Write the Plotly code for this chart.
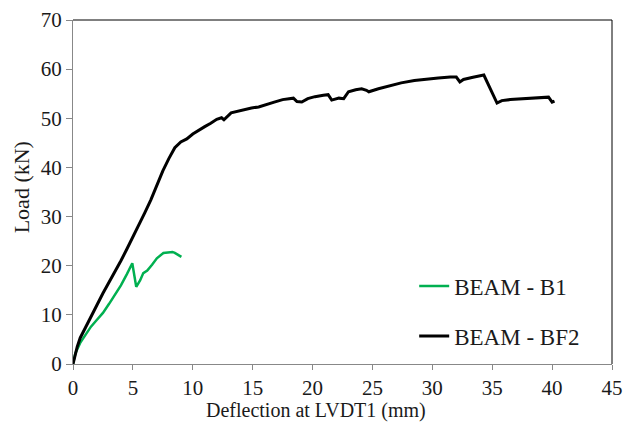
import plotly.graph_objects as go

# BEAM - B1 (green)
b1_defl = [0, 0.2, 0.6, 1.0, 1.5, 2.0, 2.5, 3.0, 3.5, 4.0, 4.5, 4.95, 5.28, 5.6, 5.87,
           6.2, 6.6, 7.0, 7.55, 8.0, 8.3, 8.5, 8.8, 9.05]
b1_load = [0, 2.2, 4.3, 5.8, 7.6, 9.0, 10.4, 12.2, 14.0, 16.0, 18.3, 20.5, 15.7, 17.0, 18.5,
           19.0, 20.2, 21.5, 22.6, 22.8, 22.8, 22.6, 22.2, 21.8]

# BEAM - BF2 (black)
bf2_defl = [0, 0.15, 0.35, 0.6, 1.0, 1.5, 2.0, 2.5, 3.0, 3.5, 4.0, 4.5, 5.0, 5.5, 6.0, 6.5,
            7.0, 7.5, 8.0, 8.5, 9.0, 9.5, 10.0, 10.5, 11.0, 11.5, 12.0, 12.4, 12.6, 13.2,
            14.0, 14.9, 15.5, 16.2, 16.8, 17.5, 18.0, 18.4, 18.7, 19.1, 19.6, 20.2, 20.9,
            21.3, 21.6, 22.2, 22.6, 23.0, 23.6, 24.1, 24.5, 24.7, 25.5, 26.5, 27.4, 28.5,
            29.5, 30.5, 31.5, 32.0, 32.3, 32.6, 33.3, 34.0, 34.3, 35.4, 35.8, 36.5, 37.5,
            38.5, 39.5, 39.7, 40.0, 40.2]
bf2_load = [0, 1.8, 3.5, 5.3, 7.3, 9.6, 12.0, 14.4, 16.5, 18.8, 21.0, 23.4, 25.8, 28.2, 30.8,
            33.4, 36.3, 39.3, 41.8, 44.0, 45.2, 45.8, 46.8, 47.6, 48.3, 49.0, 49.8, 50.1, 49.7,
            51.1, 51.6, 52.1, 52.3, 52.9, 53.3, 53.8, 54.0, 54.1, 53.4, 53.3, 54.0, 54.4, 54.7,
            54.8, 53.7, 54.1, 54.0, 55.4, 55.8, 56.0, 55.7, 55.4, 56.0, 56.6, 57.2, 57.7,
            58.0, 58.2, 58.4, 58.4, 57.4, 57.9, 58.3, 58.6, 58.8, 53.1, 53.6, 53.8, 54.0,
            54.2, 54.3, 54.3, 53.3, 53.5]

x_ticks = [0, 5, 10, 15, 20, 25, 30, 35, 40, 45]
y_ticks = [0, 10, 20, 30, 40, 50, 60, 70]

x_title = "Deflection at LVDT1 (mm)"
y_title = "Load (kN)"

FONT = "'Times New Roman', 'Liberation Serif', 'DejaVu Serif', serif"
TXT = "#1a1a1a"

fig = go.Figure()
fig.add_trace(go.Scatter(x=b1_defl, y=b1_load, mode="lines", name="BEAM - B1",
                         legendgroup="a", line=dict(color="#00B050", width=2.5)))
fig.add_trace(go.Scatter(x=bf2_defl, y=bf2_load, mode="lines", name="BEAM - BF2",
                         legendgroup="b", line=dict(color="#000000", width=3)))

fig.update_layout(
    width=627, height=424,
    margin=dict(l=73, r=15, t=20, b=60, autoexpand=False),
    plot_bgcolor="white", paper_bgcolor="white",
    font=dict(family=FONT, size=21, color=TXT),
    showlegend=True,
    legend=dict(x=0.633, y=0.289, xanchor="left", yanchor="top",
                bgcolor="rgba(0,0,0,0)", font=dict(family=FONT, size=23, color=TXT),
                traceorder="grouped", tracegroupgap=17),
    xaxis=dict(range=[0, 45], tickvals=x_ticks, showgrid=False, zeroline=False,
               automargin=False, tickfont=dict(family=FONT, size=21, color=TXT),
               showline=True, linecolor="#888888", linewidth=1,
               ticks="outside", ticklen=5, tickcolor="#888888"),
    yaxis=dict(range=[0, 70], tickvals=y_ticks, showgrid=False, zeroline=False,
               automargin=False, tickfont=dict(family=FONT, size=21, color=TXT),
               showline=True, linecolor="#888888", linewidth=1,
               ticks="outside", ticklen=6, tickcolor="#888888"),
    annotations=[
        dict(text=x_title, xref="paper", yref="paper", x=0.4507, y=-0.1366,
             xanchor="center", yanchor="middle", showarrow=False,
             font=dict(family=FONT, size=20, color=TXT)),
        dict(text=y_title, xref="paper", yref="paper", x=-0.095, y=0.513,
             xanchor="center", yanchor="middle", showarrow=False, textangle=-90,
             font=dict(family=FONT, size=22, color=TXT)),
    ],
)
# top and right frame
fig.add_shape(type="line", xref="paper", yref="paper", x0=0, x1=1, y0=1, y1=1,
              line=dict(color="black", width=1))
fig.add_shape(type="line", xref="paper", yref="paper", x0=1, x1=1, y0=0, y1=1,
              line=dict(color="black", width=1))

fig.write_html("out.html")
